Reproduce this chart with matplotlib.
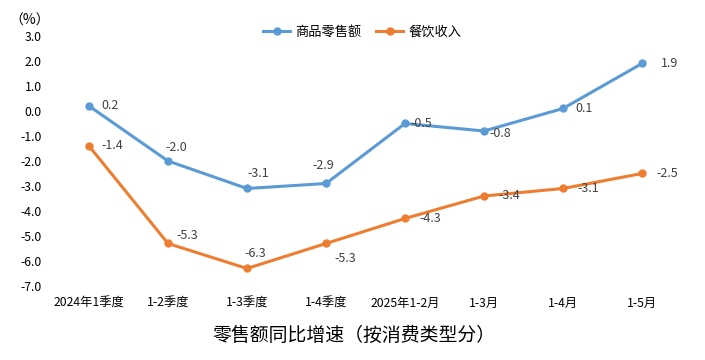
import matplotlib.pyplot as plt

plt.rcParams['font.family'] = ['Noto Sans CJK SC', 'DejaVu Sans']

categories = ['2024年1季度', '1-2季度', '1-3季度', '1-4季度', '2025年1-2月', '1-3月', '1-4月', '1-5月']
retail_goods = [0.2, -2.0, -3.1, -2.9, -0.5, -0.8, 0.1, 1.9]
catering = [-1.4, -5.3, -6.3, -5.3, -4.3, -3.4, -3.1, -2.5]
y_ticks = [3.0, 2.0, 1.0, 0.0, -1.0, -2.0, -3.0, -4.0, -5.0, -6.0, -7.0]

# label offsets in points (dx, dy)
goods_offsets = [(15, 0), (6, 10), (8, 11), (-2, 13), (12, 0), (12, -2), (15, 0), (20, 0)]
catering_offsets = [(17, 0), (14, 6), (6, 11), (14, -11), (18, 0), (18, 0), (18, 0), (18, 0)]

blue = '#5B9BD5'
orange = '#ED7D31'

fig = plt.figure(figsize=(7.05, 3.6), dpi=100)
ax = fig.add_axes([0.0702, 0.2056, 0.8965, 0.6944])

x = list(range(len(categories)))
ax.plot(x, retail_goods, color=blue, lw=2.2, marker='o', ms=5, label='商品零售额')
ax.plot(x, catering, color=orange, lw=2.2, marker='o', ms=5, label='餐饮收入')

for i, v in enumerate(retail_goods):
    ax.annotate(f'{v:.1f}', (i, v), xytext=goods_offsets[i], textcoords='offset points',
                ha='center', va='center', fontsize=9, color='#404040')
for i, v in enumerate(catering):
    ax.annotate(f'{v:.1f}', (i, v), xytext=catering_offsets[i], textcoords='offset points',
                ha='center', va='center', fontsize=9, color='#404040')

ax.set_xlim(-0.5, len(categories) - 0.5)
ax.set_ylim(-7.0, 3.0)
ax.set_yticks(y_ticks)
ax.set_yticklabels([f'{t:.1f}' for t in y_ticks])
ax.set_xticks(x)
ax.set_xticklabels(categories)
ax.tick_params(axis='both', length=0, labelsize=8.8, colors='#000000')
ax.tick_params(axis='x', pad=8)
ax.tick_params(axis='y', pad=5.5)
for s in ax.spines.values():
    s.set_visible(False)

ax.legend(loc='center', bbox_to_anchor=(0.495, 1.016), ncol=2, frameon=False,
          fontsize=9.5, handlelength=2.05, columnspacing=1.1, handletextpad=0.4)

fig.text(0.0426, 0.942, '（%）', fontsize=10, ha='center', va='center')
fig.text(0.502, 0.069, '零售额同比增速（按消费类型分）', fontsize=13.6, ha='center', va='center')

plt.savefig('out.png', dpi=100)
